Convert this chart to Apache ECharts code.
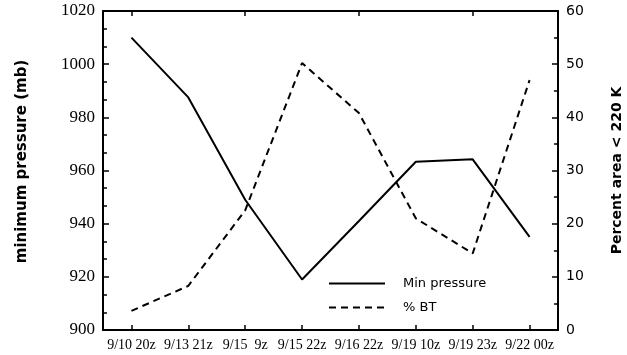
<!DOCTYPE html>
<html>
<head>
<meta charset="utf-8">
<script src="https://cdn.jsdelivr.net/npm/echarts@6/dist/echarts.min.js"></script>
<style>
html,body{margin:0;padding:0;background:#fff;}
#chart{width:627px;height:355px;}
</style>
</head>
<body>
<div id="chart"></div>
<script>
var categories = ['9/10 20z', '9/13 21z', '9/15  9z', '9/15 22z', '9/16 22z', '9/19 10z', '9/19 23z', '9/22 00z'];
var minPressure = [1010, 987.5, 949, 919, 941, 963.3, 964.2, 935];
var percentBT = [3.6, 8.3, 22.5, 50.2, 40.8, 21.0, 14.4, 47.0];
var pressureTicks = [900, 920, 940, 960, 980, 1000, 1020];
var percentTicks = [0, 10, 20, 30, 40, 50, 60];

var chart = echarts.init(document.getElementById('chart'), null, {renderer: 'canvas'});
var serif = '"Liberation Serif", "DejaVu Serif", serif';
var sans = '"DejaVu Sans", "Liberation Sans", sans-serif';
var axisLine = {show: true, lineStyle: {color: '#000', width: 2}};

chart.setOption({
  animation: false,
  backgroundColor: '#fff',
  grid: {left: 103, right: 69, top: 11, bottom: 25, containLabel: false, outerBoundsMode: 'none'},
  legend: {
    orient: 'vertical',
    left: 323,
    top: 272,
    itemWidth: 56,
    itemHeight: 14,
    itemGap: 11,
    itemStyle: {opacity: 0},
    textStyle: {fontFamily: sans, fontSize: 13, color: '#000', padding: [0, 0, 0, 13]},
    data: ['Min pressure', '% BT']
  },
  xAxis: [{
    type: 'category',
    data: categories,
    boundaryGap: true,
    position: 'bottom',
    axisLine: axisLine,
    axisTick: {show: true, inside: true, alignWithLabel: true, length: 5, lineStyle: {color: '#000', width: 1.5}},
    axisLabel: {fontFamily: serif, fontSize: 14, color: '#000', margin: 8, interval: 0},
    splitLine: {show: false}
  }, {
    type: 'category',
    data: categories,
    boundaryGap: true,
    position: 'top',
    axisLine: axisLine,
    axisTick: {show: true, inside: true, alignWithLabel: true, length: 5, lineStyle: {color: '#000', width: 1.5}},
    axisLabel: {show: false},
    splitLine: {show: false}
  }],
  yAxis: [{
    type: 'value',
    position: 'left',
    min: pressureTicks[0],
    max: pressureTicks[pressureTicks.length - 1],
    interval: 20,
    name: 'minimum pressure (mb)',
    nameLocation: 'middle',
    nameGap: 73,
    nameTextStyle: {fontFamily: sans, fontWeight: 'bold', fontSize: 15, color: '#000', padding: [0, 0, 0, 18]},
    axisLine: axisLine,
    axisTick: {show: true, inside: true, length: 6, lineStyle: {color: '#000', width: 1.5}},
    minorTick: {show: true, splitNumber: 3, length: 4, lineStyle: {color: '#000', width: 1.5}},
    axisLabel: {fontFamily: serif, fontSize: 17, color: '#000', margin: 8, formatter: function (v) { return String(v); }},
    splitLine: {show: false}
  }, {
    type: 'value',
    position: 'right',
    min: percentTicks[0],
    max: percentTicks[percentTicks.length - 1],
    interval: 10,
    name: 'Percent area < 220 K',
    nameLocation: 'middle',
    nameGap: 52,
    nameTextStyle: {fontFamily: sans, fontWeight: 'bold', fontSize: 14, color: '#000'},
    axisLine: axisLine,
    axisTick: {show: true, inside: true, length: 6, lineStyle: {color: '#000', width: 1.5}},
    minorTick: {show: true, splitNumber: 2, length: 4, lineStyle: {color: '#000', width: 1.5}},
    axisLabel: {fontFamily: sans, fontSize: 14, color: '#000', margin: 8},
    splitLine: {show: false}
  }],
  series: [{
    name: 'Min pressure',
    type: 'line',
    xAxisIndex: 0,
    yAxisIndex: 0,
    data: minPressure,
    symbol: 'none',
    lineStyle: {color: '#000', width: 2, type: 'solid'},
    itemStyle: {color: '#000'}
  }, {
    name: '% BT',
    type: 'line',
    xAxisIndex: 0,
    yAxisIndex: 1,
    data: percentBT,
    symbol: 'none',
    lineStyle: {color: '#000', width: 2, type: [7, 5]},
    itemStyle: {color: '#000'}
  }]
});
</script>
</body>
</html>
